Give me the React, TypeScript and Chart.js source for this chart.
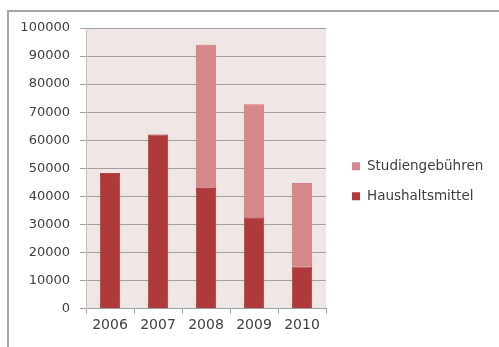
import React, { useEffect, useRef } from "react";
import { Chart, registerables } from "chart.js";

Chart.register(...registerables);

const years = ["2006", "2007", "2008", "2009", "2010"];
const haushaltsmittel = [48300, 62000, 43000, 32500, 15000];
// No tuition-fee funding before 2008
const studiengebuehren = [null, null, 51000, 40300, 29700];
const seriesNames = ["Haushaltsmittel", "Studiengebühren"];
const seriesColors = ["#b0393c", "#d6898c"];
const seriesBorders = ["#9c3033", "#c77a7d"];

const FONT = "'DejaVu Sans', sans-serif";
const TEXT = "#404040";

const plotBackground = {
  id: "plotBackground",
  beforeDraw(chart: any) {
    const { ctx, chartArea } = chart;
    ctx.save();
    ctx.fillStyle = "#f1e6e6";
    ctx.fillRect(chartArea.left, chartArea.top, chartArea.right - chartArea.left, chartArea.bottom - chartArea.top);
    ctx.restore();
  },
};

const barGlow = {
  id: "barGlow",
  beforeDatasetsDraw(chart: any) {
    const ctx = chart.ctx;
    ctx.save();
    ctx.shadowColor = "rgba(255,150,150,0.6)";
    ctx.shadowBlur = 10;
  },
  afterDatasetsDraw(chart: any) {
    chart.ctx.restore();
  },
};

const sideLegend = {
  id: "sideLegend",
  afterDraw(chart: any) {
    const { ctx, chartArea } = chart;
    const mid = (chartArea.top + chartArea.bottom) / 2;
    const items = chart.data.datasets.map((d: any) => d).reverse();
    ctx.save();
    ctx.font = `13.5px ${FONT}`;
    ctx.textBaseline = "middle";
    ctx.textAlign = "left";
    items.forEach((d: any, i: number) => {
      const cy = mid - 2 + i * 30;
      ctx.fillStyle = d.backgroundColor;
      ctx.fillRect(chartArea.right + 26, cy - 4, 8, 8);
      ctx.fillStyle = TEXT;
      ctx.fillText(d.label, chartArea.right + 41, cy);
    });
    ctx.restore();
  },
};

export default function App() {
  const canvasRef = useRef<HTMLCanvasElement | null>(null);

  useEffect(() => {
    if (!canvasRef.current) return;
    const chart = new Chart(canvasRef.current, {
      type: "bar",
      data: {
        labels: years,
        datasets: [
          {
            label: seriesNames[0],
            data: haushaltsmittel,
            backgroundColor: seriesColors[0],
            borderColor: seriesBorders[0],
            borderWidth: 1,
          },
          {
            label: seriesNames[1],
            data: studiengebuehren,
            backgroundColor: seriesColors[1],
            borderColor: seriesBorders[1],
            borderWidth: 1,
          },
        ],
      },
      options: {
        animation: false,
        responsive: true,
        maintainAspectRatio: false,
        layout: { padding: { left: 0, right: 173, top: 28, bottom: 0 } },
        datasets: { bar: { categoryPercentage: 1, barPercentage: 0.42 } },
        plugins: {
          legend: { display: false },
          tooltip: { enabled: false },
        },
        scales: {
          x: {
            stacked: true,
            afterFit(scale: any) {
              scale.height = 38.5;
            },
            grid: { offset: true, drawOnChartArea: false, drawTicks: true, tickLength: 5, color: "#9aa59e" },
            border: { display: true, color: "#9aa59e" },
            ticks: { color: TEXT, font: { family: FONT, size: 14 }, padding: 3, maxRotation: 0 },
          },
          y: {
            stacked: true,
            min: 0,
            max: 100000,
            afterFit(scale: any) {
              scale.width = 86;
            },
            grid: { color: "#a3a0a0", drawTicks: true, tickLength: 6 },
            border: { display: true, color: "#c9c0c0" },
            ticks: {
              stepSize: 10000,
              color: TEXT,
              font: { family: FONT, size: 13 },
              padding: 10,
              callback: (v: any) => String(v),
            },
          },
        },
      },
      plugins: [plotBackground, barGlow, sideLegend],
    });
    return () => chart.destroy();
  }, []);

  return (
    <div style={{ position: "fixed", left: 0, top: 0, width: 499, height: 347, background: "#ffffff" }}>
      <div
        style={{
          position: "absolute",
          left: 7,
          top: 10,
          width: 492,
          height: 337,
          boxSizing: "border-box",
          borderTop: "2px solid #a6a6a6",
          borderLeft: "2px solid #a6a6a6",
        }}
      />
      <div style={{ position: "absolute", left: 0, top: 0, width: 499, height: 347 }}>
        <canvas ref={canvasRef} />
      </div>
    </div>
  );
}
